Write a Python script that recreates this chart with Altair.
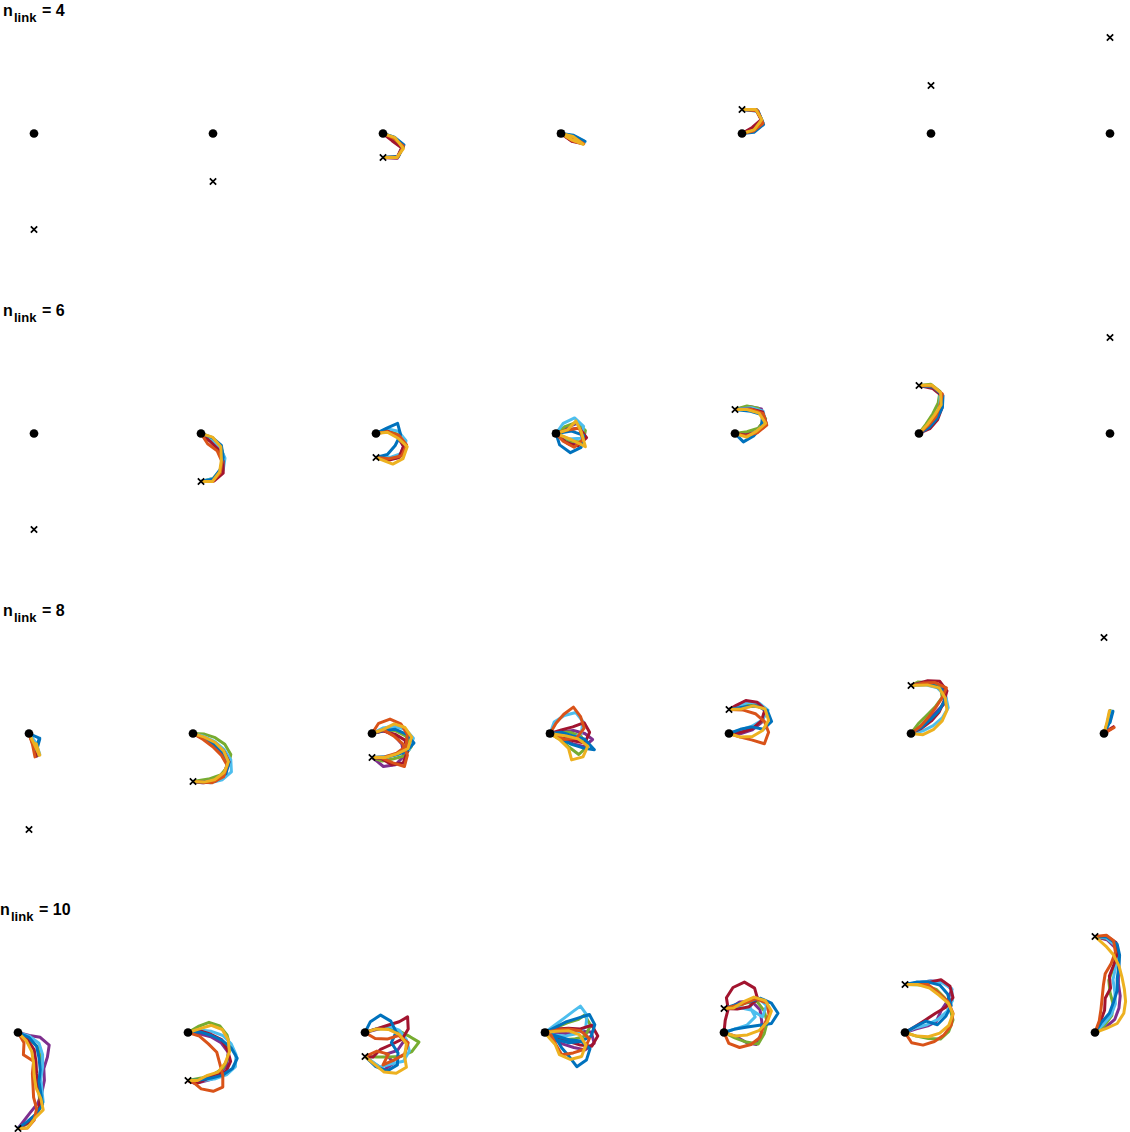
import altair as alt
import pandas as pd

# ---------------- styling / layout ----------------
COLORS = {"blue": "#0072BD", "orange": "#D95319", "yellow": "#EDB120",
          "purple": "#7E2F8E", "green": "#77AC30", "lblue": "#4DBEEE",
          "dred": "#A2142F"}
UNIT_PX = 12  # pixels per link length
W, H = 1130, 1132
ROW_BASE_Y_PX = [133.5, 433.5, 733.5, 1032.5]
COL_BASE_X_PX = [
    [34, 213, 383, 561, 742, 931, 1110],
    [34, 201, 376, 556, 735, 919, 1110],
    [29, 193, 372, 550, 729, 911, 1104],
    [18, 188, 365, 545, 724, 905, 1095],
]
TITLE_X_PX = [3, 3, 3, 0]
TITLE_Y_PX = [16, 316, 616, 915]

# ---------------- data ----------------
N_LINKS = [4, 6, 8, 10]
TARGET_Y = [-8, -4, -2, 0, 2, 4, 8]   # target offset from base (link lengths)

# arm joint positions (x right, y up, in link lengths), one list per panel
R1C3 = [
    ("purple", [(0, 0), (0.8, -0.55), (1.6, -1.15), (1.2, -2.05), (0, -2)]),
    ("green", [(0, 0), (0.9, -0.45), (1.7, -1.1), (1.2, -2.0), (0, -2)]),
    ("lblue", [(0, 0), (0.95, -0.35), (1.7, -1.0), (1.25, -1.95), (0, -2)]),
    ("dred", [(0, 0), (0.75, -0.6), (1.55, -1.2), (1.15, -2.05), (0, -2)]),
    ("blue", [(0, 0), (0.95, -0.3), (1.75, -0.95), (1.3, -1.9), (0, -2)]),
    ("orange", [(0, 0), (0.9, -0.4), (1.7, -1.05), (1.25, -1.95), (0, -2)]),
    ("yellow", [(0, 0), (1.0, -0.35), (1.7, -1.25), (1.15, -2.0), (0, -2)]),
]
R1C4 = [
    ("purple", [(0, 0), (1.0, -0.25), (1.85, -0.75), (0.9, -0.6), (0, 0)]),
    ("green", [(0, 0), (1.0, -0.3), (1.9, -0.8), (0.95, -0.6), (0, 0)]),
    ("lblue", [(0, 0), (1.05, -0.2), (2.0, -0.7), (1.0, -0.55), (0, 0)]),
    ("dred", [(0, 0), (0.95, -0.3), (1.85, -0.85), (0.9, -0.65), (0, 0)]),
    ("blue", [(0, 0), (1.05, -0.15), (2.0, -0.65), (1.05, -0.5), (0, 0)]),
    ("orange", [(0, 0), (1.0, -0.3), (1.9, -0.85), (0.95, -0.6), (0, 0)]),
    ("yellow", [(0, 0), (1.0, -0.25), (1.85, -0.9), (0.95, -0.55), (0, 0)]),
]
R1C5 = [
    ("purple", [(0, 0), (0.9, 0.45), (1.65, 1.1), (1.2, 2.0), (0, 2)]),
    ("green", [(0, 0), (0.95, 0.35), (1.7, 1.0), (1.25, 1.95), (0, 2)]),
    ("lblue", [(0, 0), (1.0, 0.2), (1.75, 0.9), (1.3, 1.9), (0, 2)]),
    ("dred", [(0, 0), (0.85, 0.5), (1.6, 1.15), (1.15, 2.0), (0, 2)]),
    ("blue", [(0, 0), (1.0, 0.1), (1.8, 0.75), (1.35, 1.85), (0, 2)]),
    ("orange", [(0, 0), (0.95, 0.2), (1.75, 0.85), (1.3, 1.9), (0, 2)]),
    ("yellow", [(0, 0), (1.0, 0.3), (1.65, 1.15), (1.15, 2.0), (0, 2)]),
]
R2C2 = [
    ("purple", [(0, 0), (0.8, -0.6), (1.55, -1.25), (1.9, -2.2), (1.75, -3.2), (1.0, -3.85), (0, -4)]),
    ("green", [(0, 0), (0.9, -0.4), (1.65, -1.05), (1.9, -2.0), (1.7, -3.0), (1.0, -3.75), (0, -4)]),
    ("lblue", [(0, 0), (0.9, -0.45), (1.6, -1.15), (2.0, -2.05), (1.85, -3.05), (1.05, -3.75), (0, -4)]),
    ("dred", [(0, 0), (0.75, -0.65), (1.45, -1.35), (1.85, -2.3), (1.85, -3.3), (1.1, -3.95), (0, -4)]),
    ("blue", [(0, 0), (0.95, -0.35), (1.7, -1.0), (1.85, -2.0), (1.6, -3.0), (1.0, -3.8), (0, -4)]),
    ("orange", [(0, 0), (0.55, -0.85), (1.35, -1.45), (1.75, -2.35), (1.6, -3.3), (0.95, -4.0), (0, -4)]),
    ("yellow", [(0, 0), (0.95, -0.3), (1.65, -1.1), (1.7, -2.2), (1.55, -3.2), (0.95, -4.0), (0, -4)]),
]
R2C3 = [
    ("purple", [(0, 0), (0.9, 0.3), (1.75, -0.25), (2.3, -1.05), (1.95, -2.0), (0.95, -2.15), (0, -2)]),
    ("green", [(0, 0), (0.95, 0.3), (1.85, -0.1), (2.45, -0.9), (2.1, -1.85), (1.05, -2.1), (0, -2)]),
    ("lblue", [(0, 0), (0.9, 0.4), (1.85, 0.2), (2.5, -0.6), (2.3, -1.6), (1.3, -1.95), (0, -2)]),
    ("dred", [(0, 0), (0.95, 0.2), (1.85, -0.2), (2.3, -1.1), (1.9, -2.0), (0.95, -2.25), (0, -2)]),
    ("blue", [(0, 0), (0.9, 0.45), (1.8, 0.85), (2.05, -0.1), (1.6, -1.0), (0.95, -1.75), (0, -2)]),
    ("orange", [(0, 0), (0.95, 0.15), (1.9, -0.15), (2.55, -0.95), (2.15, -1.85), (1.1, -2.1), (0, -2)]),
    ("yellow", [(0, 0), (0.95, 0.1), (1.85, -0.4), (2.6, -1.1), (2.25, -2.1), (1.4, -2.55), (0, -2)]),
]
R2C4 = [
    ("purple", [(0, 0), (0.85, 0.5), (1.75, 0.85), (2.4, 0.05), (2.1, -0.95), (1.1, -0.9), (0, 0)]),
    ("green", [(0, 0), (0.8, 0.6), (1.75, 0.95), (2.45, 0.25), (2.2, -0.7), (1.15, -0.65), (0, 0)]),
    ("lblue", [(0, 0), (0.6, 0.85), (1.55, 1.3), (2.3, 0.6), (2.1, -0.4), (1.05, -0.45), (0, 0)]),
    ("dred", [(0, 0), (0.95, 0.3), (1.95, 0.45), (2.55, -0.35), (1.8, -1.05), (0.85, -0.75), (0, 0)]),
    ("blue", [(0, 0), (0.3, -0.95), (1.2, -1.6), (2.1, -1.15), (2.3, -0.15), (1.3, 0.2), (0, 0)]),
    ("orange", [(0, 0), (0.95, 0.3), (1.95, 0.45), (2.25, -0.5), (1.5, -1.15), (0.6, -0.65), (0, 0)]),
    ("yellow", [(0, 0), (0.95, 0.3), (1.65, 1.05), (2.1, 0.15), (2.45, -1.1), (1.25, -0.5), (0, 0)]),
]
R2C5 = [
    ("purple", [(0, 0), (0.95, -0.1), (1.85, 0.3), (2.45, 1.1), (2.2, 2.05), (1.2, 2.25), (0, 2)]),
    ("green", [(0, 0), (1.0, 0.15), (1.95, 0.45), (2.55, 1.25), (1.95, 2.1), (1.0, 2.3), (0, 2)]),
    ("lblue", [(0, 0), (0.95, -0.2), (1.85, 0.2), (2.55, 0.9), (2.35, 1.85), (1.35, 2.15), (0, 2)]),
    ("dred", [(0, 0), (0.95, -0.15), (1.9, 0.15), (2.6, 0.85), (2.3, 1.8), (1.3, 2.05), (0, 2)]),
    ("blue", [(0, 0), (0.7, -0.7), (1.55, -0.2), (2.2, 0.55), (2.3, 1.55), (1.3, 1.85), (0, 2)]),
    ("orange", [(0, 0), (0.9, -0.2), (1.85, 0.05), (2.65, 0.7), (2.35, 1.65), (1.4, 2.0), (0, 2)]),
    ("yellow", [(0, 0), (0.95, -0.3), (1.8, 0.2), (2.55, 0.85), (2.0, 1.7), (1.0, 2.0), (0, 2)]),
]
R2C6 = [
    ("purple", [(0, 0), (0.85, 0.55), (1.45, 1.35), (1.9, 2.25), (1.85, 3.25), (1.05, 3.9), (0, 4)]),
    ("green", [(0, 0), (0.6, 0.8), (1.15, 1.65), (1.6, 2.55), (1.75, 3.5), (1.0, 4.1), (0, 4)]),
    ("lblue", [(0, 0), (0.8, 0.6), (1.35, 1.45), (1.75, 2.35), (1.75, 3.35), (1.0, 4.0), (0, 4)]),
    ("dred", [(0, 0), (0.9, 0.4), (1.55, 1.15), (1.9, 2.1), (1.95, 3.1), (1.15, 3.75), (0, 4)]),
    ("blue", [(0, 0), (0.85, 0.5), (1.5, 1.25), (1.95, 2.15), (2.0, 3.15), (1.2, 3.85), (0, 4)]),
    ("orange", [(0, 0), (0.75, 0.65), (1.4, 1.4), (1.75, 2.35), (1.95, 3.3), (1.1, 3.95), (0, 4)]),
    ("yellow", [(0, 0), (0.7, 0.75), (1.3, 1.55), (1.85, 2.4), (1.8, 3.4), (1.05, 4.05), (0, 4)]),
]
R3C1 = [
    ("purple", [(0, 0), (0.4, -0.9), (0.7, -1.85), (0.4, -0.9), (0.7, -1.85), (0.4, -0.9), (0.7, -1.85), (0.4, -0.9), (0.7, -1.85)]),
    ("green", [(0, 0), (0.5, -0.85), (0.75, -1.8), (0.5, -0.85), (0.75, -1.8), (0.5, -0.85), (0.75, -1.8), (0.5, -0.85), (0.75, -1.8)]),
    ("lblue", [(0, 0), (0.6, -0.8), (0.9, -1.75), (0.6, -0.8), (0.9, -1.75), (0.6, -0.8), (0.9, -1.75), (0.6, -0.8), (0.9, -1.75)]),
    ("dred", [(0, 0), (0.35, -0.95), (0.6, -1.9), (0.35, -0.95), (0.6, -1.9), (0.35, -0.95), (0.6, -1.9), (0.35, -0.95), (0.6, -1.9)]),
    ("blue", [(0, 0), (0.9, -0.4), (0.6, -1.35), (0.9, -0.4), (0.65, -1.35), (0.9, -0.45), (0.6, -1.35), (0.85, -0.4), (0.6, -1.35)]),
    ("orange", [(0, 0), (0.3, -0.95), (0.5, -1.95), (0.3, -0.95), (0.5, -1.95), (0.3, -0.95), (0.5, -1.95), (0.3, -0.95), (0.5, -1.95)]),
    ("yellow", [(0, 0), (0.45, -0.9), (0.85, -1.8), (0.5, -0.85), (0.9, -1.8), (0.55, -0.85), (0.9, -1.8), (0.6, -0.85), (0.85, -1.8)]),
]
R3C2 = [
    ("purple", [(0, 0), (0.9, -0.45), (1.75, -1.0), (2.45, -1.7), (2.85, -2.6), (2.5, -3.5), (1.7, -4.0), (0.75, -4.1), (0, -4)]),
    ("green", [(0, 0), (0.95, -0.05), (1.85, -0.35), (2.65, -0.9), (3.15, -1.75), (2.95, -2.7), (2.3, -3.45), (1.3, -3.8), (0, -4)]),
    ("lblue", [(0, 0), (0.95, -0.25), (1.85, -0.7), (2.6, -1.35), (3.15, -2.2), (3.2, -3.2), (2.45, -3.85), (1.45, -4.1), (0, -4)]),
    ("dred", [(0, 0), (0.9, -0.35), (1.8, -0.8), (2.55, -1.45), (3.0, -2.35), (2.7, -3.3), (1.9, -3.95), (0.9, -4.1), (0, -4)]),
    ("blue", [(0, 0), (0.9, -0.4), (1.75, -0.9), (2.5, -1.55), (3.0, -2.4), (2.75, -3.35), (1.8, -3.9), (0.85, -4.05), (0, -4)]),
    ("orange", [(0, 0), (0.85, -0.5), (1.65, -1.1), (2.35, -1.8), (2.85, -2.65), (2.55, -3.6), (1.6, -4.1), (0.7, -4.05), (0, -4)]),
    ("yellow", [(0, 0), (0.95, -0.3), (1.85, -0.75), (2.55, -1.45), (2.95, -2.35), (2.6, -3.25), (1.8, -3.85), (0.9, -4.05), (0, -4)]),
]
R3C3 = [
    ("purple", [(0, 0), (0.95, 0.25), (1.85, -0.15), (2.5, -0.9), (2.65, -1.9), (1.95, -2.6), (0.95, -2.75), (0.4, -2.3), (0, -2)]),
    ("green", [(0, 0), (0.95, 0.3), (1.9, 0.25), (2.8, -0.2), (3.3, -1.05), (2.75, -1.85), (1.8, -2.1), (0.85, -2.3), (0, -2)]),
    ("lblue", [(0, 0), (0.9, 0.45), (1.85, 0.6), (2.8, 0.35), (3.45, -0.4), (3.1, -1.35), (2.2, -1.75), (1.2, -1.9), (0, -2)]),
    ("dred", [(0, 0), (0.95, 0.2), (1.9, -0.05), (2.75, -0.55), (2.95, -1.5), (2.6, -2.45), (1.65, -2.6), (0.8, -2.1), (0, -2)]),
    ("blue", [(0, 0), (0.95, 0.25), (1.95, 0.35), (2.85, -0.05), (3.5, -0.8), (2.85, -1.5), (1.9, -1.8), (0.95, -2.05), (0, -2)]),
    ("orange", [(0, 0), (0.95, 0.3), (1.8, -0.2), (2.55, -0.85), (2.95, -1.8), (2.7, -2.75), (1.75, -2.45), (0.85, -2.05), (0, -2)]),
    ("orange", [(0, 0), (0.55, 0.85), (1.5, 1.2), (2.4, 0.8), (2.95, -0.05), (2.85, -1.05), (2.05, -1.65), (1.05, -1.95), (0, -2)]),
    ("yellow", [(0, 0), (0.95, 0.35), (1.85, 0.8), (2.75, 0.5), (3.3, -0.3), (3.0, -1.25), (2.1, -1.7), (1.1, -2.0), (0, -2)]),
]
R3C4 = [
    ("purple", [(0, 0), (0.95, 0.15), (1.95, 0.25), (2.9, 0.0), (3.55, -0.5), (2.85, -1.1), (1.9, -0.85), (0.95, -0.5), (0, 0)]),
    ("green", [(0, 0), (0.85, -0.5), (1.6, -1.15), (2.4, -1.75), (3.1, -1.1), (2.6, -0.25), (1.7, 0.1), (0.75, 0.1), (0, 0)]),
    ("lblue", [(0, 0), (0.35, 0.95), (1.2, 1.5), (2.15, 1.75), (2.75, 1.0), (2.6, 0.0), (1.75, -0.45), (0.8, -0.3), (0, 0)]),
    ("dred", [(0, 0), (0.95, 0.3), (1.9, 0.55), (2.85, 0.9), (3.3, 0.1), (2.9, -0.8), (1.95, -0.6), (0.95, -0.35), (0, 0)]),
    ("blue", [(0, 0), (0.95, 0.1), (1.9, -0.2), (2.85, -0.45), (3.7, -1.35), (2.75, -1.2), (1.8, -0.9), (0.9, -0.45), (0, 0)]),
    ("orange", [(0, 0), (0.5, 0.85), (1.15, 1.6), (1.95, 2.2), (2.55, 1.4), (2.85, 0.45), (2.2, -0.4), (1.2, -0.5), (0, 0)]),
    ("yellow", [(0, 0), (0.85, -0.55), (1.55, -1.25), (1.8, -2.2), (2.75, -1.95), (3.15, -1.05), (2.35, -0.45), (1.35, -0.2), (0, 0)]),
]
R3C5 = [
    ("purple", [(0, 0), (1.0, 0.0), (1.95, 0.3), (2.7, 0.9), (3.1, 1.8), (2.4, 2.45), (1.4, 2.35), (0.5, 2.0), (0, 2)]),
    ("green", [(0, 0), (1.0, 0.2), (1.95, 0.5), (2.75, 1.05), (3.05, 2.0), (2.25, 2.55), (1.3, 2.45), (0.45, 2.1), (0, 2)]),
    ("lblue", [(0, 0), (0.95, 0.3), (1.9, 0.6), (2.75, 1.1), (3.25, 1.95), (2.5, 2.55), (1.6, 2.6), (0.8, 2.3), (0, 2)]),
    ("dred", [(0, 0), (1.0, 0.1), (1.95, 0.4), (2.7, 1.05), (3.0, 2.0), (2.35, 2.6), (1.4, 2.75), (0.6, 2.35), (0, 2)]),
    ("blue", [(0, 0), (0.95, 0.35), (1.9, 0.55), (2.85, 0.35), (3.55, 1.0), (3.2, 1.9), (2.3, 2.3), (1.3, 2.2), (0, 2)]),
    ("orange", [(0, 0), (0.95, -0.3), (1.95, -0.55), (2.95, -0.85), (3.3, 0.1), (2.95, 1.0), (2.2, 1.65), (1.2, 1.95), (0, 2)]),
    ("yellow", [(0, 0), (0.95, -0.3), (1.95, -0.25), (2.8, 0.25), (3.3, 1.1), (3.0, 2.05), (2.05, 2.3), (1.05, 2.05), (0, 2)]),
]
R3C6 = [
    ("purple", [(0, 0), (0.8, 0.6), (1.55, 1.25), (2.25, 1.95), (2.95, 2.65), (2.8, 3.6), (1.95, 4.1), (0.95, 4.2), (0, 4)]),
    ("green", [(0, 0), (0.6, 0.8), (1.3, 1.5), (2.0, 2.2), (2.6, 3.0), (2.45, 3.95), (1.5, 4.25), (0.6, 4.3), (0, 4)]),
    ("lblue", [(0, 0), (0.95, 0.2), (1.85, 0.65), (2.6, 1.3), (3.1, 2.15), (2.9, 3.1), (2.2, 3.8), (1.2, 4.05), (0, 4)]),
    ("dred", [(0, 0), (0.9, 0.45), (1.7, 1.05), (2.35, 1.8), (2.75, 2.7), (3.0, 3.55), (2.4, 4.35), (1.4, 4.4), (0, 4)]),
    ("blue", [(0, 0), (0.85, 0.5), (1.6, 1.15), (2.3, 1.85), (2.8, 2.7), (2.6, 3.65), (1.7, 4.1), (0.75, 4.15), (0, 4)]),
    ("orange", [(0, 0), (0.8, 0.6), (1.45, 1.35), (2.05, 2.15), (2.6, 3.0), (2.95, 3.8), (2.0, 4.25), (1.0, 4.2), (0, 4)]),
    ("yellow", [(0, 0), (1.0, -0.1), (1.9, 0.35), (2.6, 1.05), (3.0, 1.95), (2.85, 2.95), (2.35, 3.8), (1.35, 4.05), (0, 4)]),
]
R3C7 = [
    ("purple", [(0, 0), (0.3, 0.95), (0.5, 1.9), (0.3, 0.95), (0.5, 1.9), (0.3, 0.95), (0.5, 1.9), (0.3, 0.95), (0.5, 1.9)]),
    ("green", [(0, 0), (0.35, 0.95), (0.55, 1.9), (0.35, 0.95), (0.55, 1.9), (0.35, 0.95), (0.55, 1.9), (0.35, 0.95), (0.55, 1.9)]),
    ("lblue", [(0, 0), (0.45, 0.9), (0.7, 1.85), (0.45, 0.9), (0.7, 1.85), (0.45, 0.9), (0.7, 1.85), (0.45, 0.9), (0.7, 1.85)]),
    ("dred", [(0, 0), (0.8, 0.55), (0.1, 0.15), (0.8, 0.55), (0.1, 0.15), (0.8, 0.55), (0.1, 0.15), (0.8, 0.55), (0.1, 0.15)]),
    ("blue", [(0, 0), (0.45, 0.9), (0.75, 1.85), (0.5, 0.9), (0.75, 1.85), (0.5, 0.9), (0.75, 1.85), (0.5, 0.9), (0.75, 1.85)]),
    ("orange", [(0, 0), (0.85, 0.5), (0.05, 0.1), (0.85, 0.5), (0.05, 0.1), (0.85, 0.5), (0.05, 0.1), (0.85, 0.5), (0.05, 0.1)]),
    ("yellow", [(0, 0), (0.25, 0.95), (0.45, 1.9), (0.25, 0.95), (0.45, 1.9), (0.25, 0.95), (0.45, 1.9), (0.25, 0.95), (0.45, 1.9)]),
]
R4C1 = [
    ("purple", [(0, 0), (0.95, -0.25), (1.85, -0.4), (2.6, -1.05), (2.45, -2.05), (2.15, -3.0), (2.2, -4.0), (2.0, -4.95), (1.65, -5.9), (1.0, -6.7), (0, -8)]),
    ("green", [(0, 0), (0.85, -0.5), (1.6, -1.15), (1.9, -2.1), (1.95, -3.1), (1.8, -4.1), (1.75, -5.1), (1.85, -6.1), (1.4, -6.95), (0.8, -7.6), (0, -8)]),
    ("lblue", [(0, 0), (0.95, -0.3), (1.75, -0.9), (2.05, -1.85), (2.05, -2.85), (1.9, -3.85), (2.0, -4.85), (2.1, -5.8), (1.6, -6.65), (0.95, -7.4), (0, -8)]),
    ("dred", [(0, 0), (0.8, -0.6), (1.35, -1.45), (1.5, -2.45), (1.55, -3.45), (1.65, -4.45), (1.85, -5.4), (1.75, -6.4), (1.4, -7.1), (0.7, -7.6), (0, -8)]),
    ("blue", [(0, 0), (0.9, -0.4), (1.55, -1.15), (1.75, -2.1), (1.85, -3.1), (1.75, -4.1), (1.9, -5.05), (2.05, -6.0), (1.5, -6.8), (0.75, -7.45), (0, -8)]),
    ("orange", [(0, 0), (0.5, -0.85), (0.45, -1.85), (1.3, -2.4), (1.2, -3.4), (1.25, -4.4), (1.3, -5.4), (1.55, -6.35), (1.35, -7.3), (0.8, -7.95), (0, -8)]),
    ("yellow", [(0, 0), (0.7, -0.7), (1.15, -1.6), (1.3, -2.6), (1.35, -3.6), (1.5, -4.6), (1.9, -5.5), (2.1, -6.45), (1.4, -7.15), (0.8, -7.95), (0, -8)]),
]
R4C2 = [
    ("purple", [(0, 0), (0.95, -0.1), (1.9, -0.35), (2.75, -0.85), (3.35, -1.65), (3.25, -2.65), (2.75, -3.45), (1.95, -3.9), (1.0, -4.15), (0.45, -4.2), (0, -4)]),
    ("green", [(0, 0), (0.85, 0.5), (1.75, 0.85), (2.65, 0.55), (3.25, -0.2), (3.5, -1.15), (3.3, -2.15), (2.9, -3.0), (2.1, -3.5), (1.1, -3.8), (0, -4)]),
    ("lblue", [(0, 0), (0.95, 0.2), (1.95, 0.1), (2.9, -0.25), (3.6, -0.95), (4.0, -1.85), (3.95, -2.85), (3.25, -3.5), (2.3, -3.85), (1.3, -4.0), (0, -4)]),
    ("dred", [(0, 0), (0.95, 0.15), (1.9, -0.15), (2.8, -0.6), (3.3, -1.45), (3.55, -2.4), (3.15, -3.3), (2.2, -3.5), (1.4, -3.95), (0.7, -4.25), (0, -4)]),
    ("blue", [(0, 0), (1.0, 0.05), (1.95, -0.25), (2.85, -0.65), (3.6, -1.3), (4.1, -2.15), (3.7, -3.0), (2.9, -3.55), (1.95, -3.8), (1.0, -3.95), (0, -4)]),
    ("orange", [(0, 0), (0.95, -0.3), (1.7, -0.95), (2.4, -1.65), (2.65, -2.6), (2.9, -3.55), (2.9, -4.55), (2.1, -4.9), (1.1, -4.7), (0.5, -4.2), (0, -4)]),
    ("yellow", [(0, 0), (0.95, 0.3), (1.95, 0.6), (2.85, 0.25), (3.35, -0.6), (3.45, -1.6), (3.1, -2.55), (2.5, -3.3), (1.55, -3.6), (0.8, -4.0), (0, -4)]),
]
R4C3 = [
    ("purple", [(0, 0), (0.95, 0.25), (1.9, 0.5), (2.8, 0.15), (3.25, -0.7), (2.7, -1.5), (1.75, -1.8), (2.4, -2.55), (1.6, -3.1), (0.8, -2.6), (0, -2)]),
    ("green", [(0, 0), (0.95, 0.3), (1.95, 0.35), (2.9, 0.1), (3.75, -0.35), (4.5, -0.8), (3.9, -1.6), (3.0, -2.0), (2.0, -2.05), (1.0, -2.05), (0, -2)]),
    ("lblue", [(0, 0), (0.95, 0.3), (1.9, 0.55), (2.85, 0.2), (3.45, -0.6), (3.7, -1.55), (3.2, -2.4), (2.2, -2.6), (1.25, -2.9), (0.5, -2.35), (0, -2)]),
    ("dred", [(0, 0), (0.95, 0.3), (1.9, 0.6), (2.85, 0.9), (3.55, 1.3), (3.6, 0.3), (3.1, -0.55), (2.2, -1.0), (1.3, -1.4), (0.65, -2.05), (0, -2)]),
    ("blue", [(0, 0), (0.45, 0.9), (1.3, 1.45), (2.15, 0.95), (2.6, 0.05), (2.2, -0.85), (2.75, -1.7), (2.7, -2.7), (1.85, -3.2), (0.9, -2.85), (0, -2)]),
    ("orange", [(0, 0), (0.85, -0.5), (1.85, -0.55), (2.8, -0.25), (3.6, -0.85), (3.3, -1.8), (2.4, -2.3), (1.5, -2.7), (1.95, -1.8), (1.0, -1.55), (0, -2)]),
    ("yellow", [(0, 0), (0.95, 0.3), (1.95, 0.25), (2.85, -0.15), (3.45, -0.95), (3.3, -1.95), (3.45, -2.9), (2.6, -3.4), (1.6, -3.3), (0.85, -2.7), (0, -2)]),
]
R4C4 = [
    ("purple", [(0, 0), (0.95, 0.0), (1.95, -0.1), (2.9, 0.1), (3.85, 0.05), (4.1, -0.9), (3.35, -1.45), (2.4, -1.25), (1.45, -0.95), (0.6, -0.5), (0, 0)]),
    ("green", [(0, 0), (0.9, 0.4), (1.85, 0.8), (2.8, 1.1), (3.3, 1.45), (3.8, 0.6), (3.35, -0.3), (2.4, -0.55), (1.45, -0.6), (0.6, -0.45), (0, 0)]),
    ("lblue", [(0, 0), (0.8, 0.6), (1.6, 1.2), (2.4, 1.8), (2.95, 2.2), (3.5, 1.45), (3.4, 0.45), (2.6, -0.1), (1.65, -0.3), (0.75, -0.2), (0, 0)]),
    ("dred", [(0, 0), (0.95, 0.3), (1.95, 0.35), (2.95, 0.3), (3.9, 0.6), (4.4, -0.3), (3.9, -1.15), (2.95, -1.05), (2.0, -0.75), (1.0, -0.55), (0, 0)]),
    ("blue", [(0, 0), (0.9, 0.45), (1.8, 0.9), (2.75, 1.2), (3.7, 1.5), (4.15, 0.65), (3.85, -0.3), (2.95, -0.75), (2.0, -0.85), (1.0, -0.6), (0, 0)]),
    ("blue", [(0, 0), (0.9, -0.45), (1.4, -1.3), (2.05, -2.05), (2.65, -2.85), (3.45, -2.3), (3.75, -1.35), (3.0, -0.7), (2.0, -0.6), (1.0, -0.3), (0, 0)]),
    ("orange", [(0, 0), (0.95, 0.2), (1.95, 0.3), (2.95, 0.15), (3.7, -0.5), (3.3, -1.4), (2.35, -1.7), (1.4, -1.85), (0.9, -1.0), (0.5, -0.2), (0, 0)]),
    ("yellow", [(0, 0), (0.95, 0.1), (1.95, 0.15), (2.9, -0.2), (3.4, -1.05), (3.05, -2.0), (2.1, -2.25), (1.2, -1.85), (0.85, -1.0), (0.4, -0.5), (0, 0)]),
]
R4C5 = [
    ("purple", [(0, 0), (0.95, -0.3), (1.9, -0.85), (2.7, -1.0), (3.1, -0.1), (3.15, 0.9), (3.0, 1.9), (2.3, 2.6), (1.3, 2.55), (0.6, 2.1), (0, 2)]),
    ("green", [(0, 0), (0.9, -0.45), (1.85, -0.8), (2.85, -0.95), (3.35, -0.1), (3.6, 0.85), (3.35, 1.8), (2.75, 2.6), (1.8, 2.45), (0.9, 2.1), (0, 2)]),
    ("lblue", [(0, 0), (0.95, 0.3), (1.9, 0.6), (2.6, 1.3), (2.15, 2.15), (2.8, 2.9), (3.55, 2.25), (3.2, 1.3), (2.35, 1.85), (1.15, 2.1), (0, 2)]),
    ("dred", [(0, 0), (0.1, 1.0), (0.35, 1.95), (0.2, 2.9), (0.75, 3.75), (1.7, 4.2), (2.55, 3.7), (2.8, 2.8), (2.1, 2.15), (1.1, 1.95), (0, 2)]),
    ("blue", [(0, 0), (0.95, 0.3), (1.95, 0.45), (2.95, 0.6), (3.95, 0.75), (4.5, 1.6), (3.95, 2.45), (3.05, 2.85), (2.1, 2.55), (1.1, 2.35), (0, 2)]),
    ("orange", [(0, 0), (0.4, -0.9), (1.3, -1.25), (2.25, -1.0), (3.0, -0.4), (3.3, 0.55), (3.75, 1.45), (3.6, 2.45), (2.65, 2.8), (1.5, 2.35), (0, 2)]),
    ("yellow", [(0, 0), (0.95, -0.3), (1.95, -0.2), (2.9, 0.15), (3.6, 0.85), (3.95, 1.8), (3.45, 2.65), (2.5, 2.95), (1.6, 2.55), (0.8, 2.05), (0, 2)]),
]
R4C6 = [
    ("purple", [(0, 0), (0.95, 0.3), (1.9, 0.55), (2.6, 0.9), (3.0, 1.8), (3.55, 2.65), (3.9, 3.6), (3.15, 4.25), (2.15, 4.3), (1.1, 4.15), (0, 4)]),
    ("green", [(0, 0), (0.95, -0.3), (1.95, -0.5), (2.95, -0.55), (3.65, 0.1), (4.0, 1.05), (3.75, 2.0), (3.3, 2.9), (2.6, 3.6), (1.6, 3.95), (0, 4)]),
    ("lblue", [(0, 0), (0.9, 0.4), (1.85, 0.65), (2.75, 1.1), (3.5, 1.75), (3.95, 2.65), (3.9, 3.65), (3.1, 4.15), (2.1, 4.3), (1.05, 4.15), (0, 4)]),
    ("dred", [(0, 0), (0.85, 0.5), (1.7, 1.05), (2.55, 1.6), (3.4, 2.1), (4.0, 2.9), (3.75, 3.85), (3.0, 4.4), (2.05, 4.2), (1.05, 4.1), (0, 4)]),
    ("blue", [(0, 0), (0.85, 0.5), (1.75, 0.95), (2.7, 0.65), (3.4, 1.35), (3.85, 2.25), (3.55, 3.2), (2.9, 3.95), (1.95, 4.2), (0.95, 4.2), (0, 4)]),
    ("orange", [(0, 0), (0.55, -0.85), (1.5, -1.05), (2.45, -0.75), (3.25, -0.2), (3.85, 0.6), (4.0, 1.6), (3.6, 2.55), (2.85, 3.25), (1.9, 4.0), (0, 4)]),
    ("yellow", [(0, 0), (0.95, -0.3), (1.95, -0.35), (2.9, -0.05), (3.65, 0.6), (4.0, 1.55), (3.6, 2.45), (2.85, 3.1), (2.05, 3.7), (1.05, 4.0), (0, 4)]),
]
R4C7 = [
    ("purple", [(0, 0), (0.9, 0.45), (1.65, 1.1), (2.0, 2.05), (2.1, 3.05), (1.95, 4.05), (1.95, 5.05), (1.95, 6.05), (1.75, 7.0), (1.05, 7.7), (0, 8)]),
    ("green", [(0, 0), (0.8, 0.6), (1.4, 1.4), (1.5, 2.4), (1.25, 3.35), (1.15, 4.35), (1.5, 5.3), (1.8, 6.25), (1.8, 7.25), (1.0, 7.85), (0, 8)]),
    ("lblue", [(0, 0), (0.7, 0.7), (1.35, 1.45), (1.7, 2.4), (1.65, 3.4), (1.5, 4.4), (1.7, 5.35), (1.9, 6.3), (1.7, 7.25), (0.9, 7.9), (0, 8)]),
    ("dred", [(0, 0), (0.45, 0.9), (0.8, 1.85), (0.85, 2.85), (1.3, 3.7), (1.2, 4.7), (1.55, 5.6), (1.85, 6.55), (1.75, 7.5), (1.0, 8.0), (0, 8)]),
    ("blue", [(0, 0), (0.55, 0.85), (1.2, 1.6), (1.55, 2.55), (1.85, 3.5), (1.85, 4.5), (2.0, 5.5), (2.05, 6.45), (1.85, 7.35), (1.0, 7.95), (0, 8)]),
    ("orange", [(0, 0), (0.35, 0.95), (0.5, 1.95), (0.6, 2.95), (0.7, 3.95), (0.85, 4.9), (1.35, 5.75), (1.7, 6.7), (1.55, 7.65), (0.95, 8.1), (0, 8)]),
    ("yellow", [(0, 0), (0.95, 0.35), (1.85, 0.75), (2.4, 1.6), (2.55, 2.6), (2.45, 3.6), (2.25, 4.6), (2.0, 5.55), (1.55, 6.45), (0.9, 7.2), (0, 8)]),
]

PANEL_ARMS = {
    (0, 2): R1C3, (0, 3): R1C4, (0, 4): R1C5,
    (1, 1): R2C2, (1, 2): R2C3, (1, 3): R2C4, (1, 4): R2C5, (1, 5): R2C6,
    (2, 0): R3C1, (2, 1): R3C2, (2, 2): R3C3, (2, 3): R3C4, (2, 4): R3C5,
    (2, 5): R3C6, (2, 6): R3C7,
    (3, 0): R4C1, (3, 1): R4C2, (3, 2): R4C3, (3, 3): R4C4, (3, 4): R4C5,
    (3, 5): R4C6, (3, 6): R4C7,
}

# ---------------- build tables ----------------
line_rows, base_rows, target_rows = [], [], []
for r in range(4):
    for c in range(7):
        ox = COL_BASE_X_PX[r][c] / UNIT_PX
        oy = -ROW_BASE_Y_PX[r] / UNIT_PX
        base_rows.append({"gx": ox, "gy": oy})
        target_rows.append({"gx": ox, "gy": oy + TARGET_Y[c]})
        for li, (cname, pts) in enumerate(PANEL_ARMS.get((r, c), [])):
            lid = f"{r}{c}_{li:02d}"
            for k, (x, y) in enumerate(pts):
                line_rows.append({"gx": ox + x, "gy": oy + y, "line": lid,
                                  "col": COLORS[cname], "k": k})

lines_df = pd.DataFrame(line_rows)
base_df = pd.DataFrame(base_rows)
target_df = pd.DataFrame(target_rows)

title_rows = []
for r in range(4):
    x0, y0 = TITLE_X_PX[r], TITLE_Y_PX[r]
    title_rows.append({"tx": x0, "ty": y0, "t": "n", "fs": 16})
    title_rows.append({"tx": x0 + 11, "ty": y0 + 6, "t": "link", "fs": 13})
    title_rows.append({"tx": x0 + 39, "ty": y0, "t": f"= {N_LINKS[r]}", "fs": 16})
title_df = pd.DataFrame(title_rows)

xs = alt.Scale(domain=[0, W / UNIT_PX], nice=False, zero=False)
ys = alt.Scale(domain=[-H / UNIT_PX, 0], nice=False, zero=False)

lines = alt.Chart(lines_df).mark_line(strokeWidth=3.0, strokeJoin="round",
                                      strokeCap="butt").encode(
    x=alt.X("gx:Q", scale=xs, axis=None),
    y=alt.Y("gy:Q", scale=ys, axis=None),
    detail="line:N",
    color=alt.Color("col:N", scale=None),
    order="k:Q",
)

targets = alt.Chart(target_df).mark_point(
    shape="M-1,-1L1,1M-1,1L1,-1", size=40, strokeWidth=1.7,
    color="black", filled=False, opacity=1,
).encode(
    x=alt.X("gx:Q", scale=xs, axis=None),
    y=alt.Y("gy:Q", scale=ys, axis=None),
)

bases = alt.Chart(base_df).mark_circle(size=76, color="black", opacity=1).encode(
    x=alt.X("gx:Q", scale=xs, axis=None),
    y=alt.Y("gy:Q", scale=ys, axis=None),
)

titles = alt.Chart(title_df).mark_text(
    font="Liberation Sans", fontWeight="bold", align="left",
    baseline="alphabetic", color="black",
).encode(
    x=alt.X("tx:Q", scale=None),
    y=alt.Y("ty:Q", scale=None),
    text="t:N",
    size=alt.Size("fs:Q", scale=None, legend=None),
)

chart = alt.layer(lines, targets, bases, titles).properties(
    width=W, height=H,
    autosize=alt.AutoSizeParams(type="none"),
    padding=0,
).configure_view(stroke=None)

chart.save("out.html", embed_options={"renderer": "svg", "actions": False})
